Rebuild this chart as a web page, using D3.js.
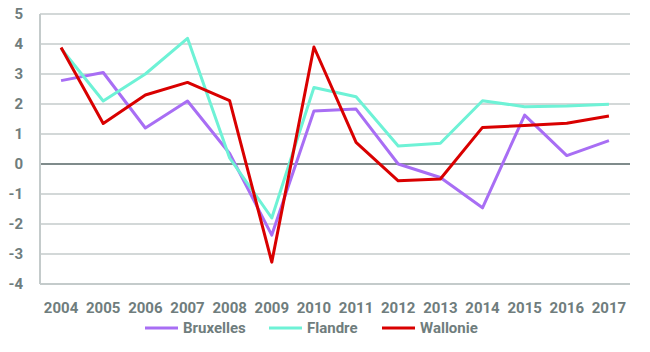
<!DOCTYPE html>
<html>
<head>
<meta charset="utf-8">
<script src="https://cdn.jsdelivr.net/npm/d3@7"></script>
<style>
    body { margin: 0; background: #fff; }
    text { font-family: "Liberation Sans Narrow", "Roboto", sans-serif; font-weight: bold; fill: #6f7d7d; }
</style>
</head>
<body>
<svg id="chart" width="650" height="352"></svg>
<script>
// Data
const years = ['2004', '2005', '2006', '2007', '2008', '2009', '2010', '2011', '2012', '2013', '2014', '2015', '2016', '2017'];
const bruxelles = [2.78, 3.05, 1.2, 2.1, 0.35, -2.37, 1.77, 1.83, 0.0, -0.45, -1.46, 1.63, 0.28, 0.78];
const flandre = [3.85, 2.1, 3.0, 4.19, 0.2, -1.8, 2.55, 2.24, 0.6, 0.69, 2.11, 1.91, 1.93, 1.99];
const wallonie = [3.88, 1.35, 2.3, 2.72, 2.11, -3.27, 3.9, 0.72, -0.56, -0.5, 1.22, 1.28, 1.36, 1.6];
const yTicks = [5, 4, 3, 2, 1, 0, -1, -2, -3, -4];

const series = [
    { name: 'Bruxelles', values: bruxelles, color: '#a86ef4' },
    { name: 'Flandre', values: flandre, color: '#6ef2d6' },
    { name: 'Wallonie', values: wallonie, color: '#d90000' }
];

// Layout
const PLOT_LEFT = 40, PLOT_RIGHT = 630, PLOT_TOP = 14, PLOT_BOTTOM = 284;

const svg = d3.select('#chart');

const x = d3.scaleBand().domain(years).range([PLOT_LEFT, PLOT_RIGHT]);
const y = d3.scaleLinear().domain([-4, 5]).range([PLOT_BOTTOM, PLOT_TOP]);

// Gridlines
svg.append('g')
    .selectAll('line')
    .data(yTicks.filter((t) => t !== -4))
    .enter().append('line')
    .attr('x1', PLOT_LEFT).attr('x2', PLOT_RIGHT)
    .attr('y1', (d) => y(d)).attr('y2', (d) => y(d))
    .attr('stroke', (d) => d === 0 ? '#7f8b8b' : '#a7b1b1')
    .attr('stroke-width', (d) => d === 0 ? 2 : 1);

// Axis frame (left + bottom)
svg.append('line')
    .attr('x1', PLOT_LEFT).attr('x2', PLOT_LEFT).attr('y1', PLOT_TOP).attr('y2', PLOT_BOTTOM)
    .attr('stroke', '#c4cbcb').attr('stroke-width', 2);
svg.append('line')
    .attr('x1', PLOT_LEFT).attr('x2', PLOT_RIGHT).attr('y1', PLOT_BOTTOM).attr('y2', PLOT_BOTTOM)
    .attr('stroke', '#c4cbcb').attr('stroke-width', 2);

// Y labels
svg.append('g')
    .selectAll('text')
    .data(yTicks)
    .enter().append('text')
    .attr('x', 23)
    .attr('y', (d) => y(d) + 5)
    .attr('text-anchor', 'end')
    .attr('font-size', 15)
    .text((d) => d);

// X labels
svg.append('g')
    .selectAll('text')
    .data(years)
    .enter().append('text')
    .attr('x', (d) => x(d) + x.bandwidth() / 2)
    .attr('y', 313)
    .attr('text-anchor', 'middle')
    .attr('font-size', 15)
    .text((d) => d);

// Lines
const line = d3.line()
    .x((d, i) => x(years[i]) + x.bandwidth() / 2)
    .y((d) => y(d));

svg.append('g')
    .selectAll('path')
    .data(series)
    .enter().append('path')
    .attr('d', (s) => line(s.values))
    .attr('fill', 'none')
    .attr('stroke', (s) => s.color)
    .attr('stroke-width', 3)
    .attr('stroke-linejoin', 'round');

// Legend
const legendX = [145, 269, 382];
const legend = svg.append('g')
    .selectAll('g')
    .data(series)
    .enter().append('g')
    .attr('transform', (s, i) => `translate(${legendX[i]},328)`);
legend.append('line')
    .attr('x1', 0).attr('x2', 33)
    .attr('stroke', (s) => s.color)
    .attr('stroke-width', 3);
legend.append('text')
    .attr('x', 38).attr('y', 5)
    .attr('font-size', 15)
    .text((s) => s.name);
</script>
</body>
</html>
